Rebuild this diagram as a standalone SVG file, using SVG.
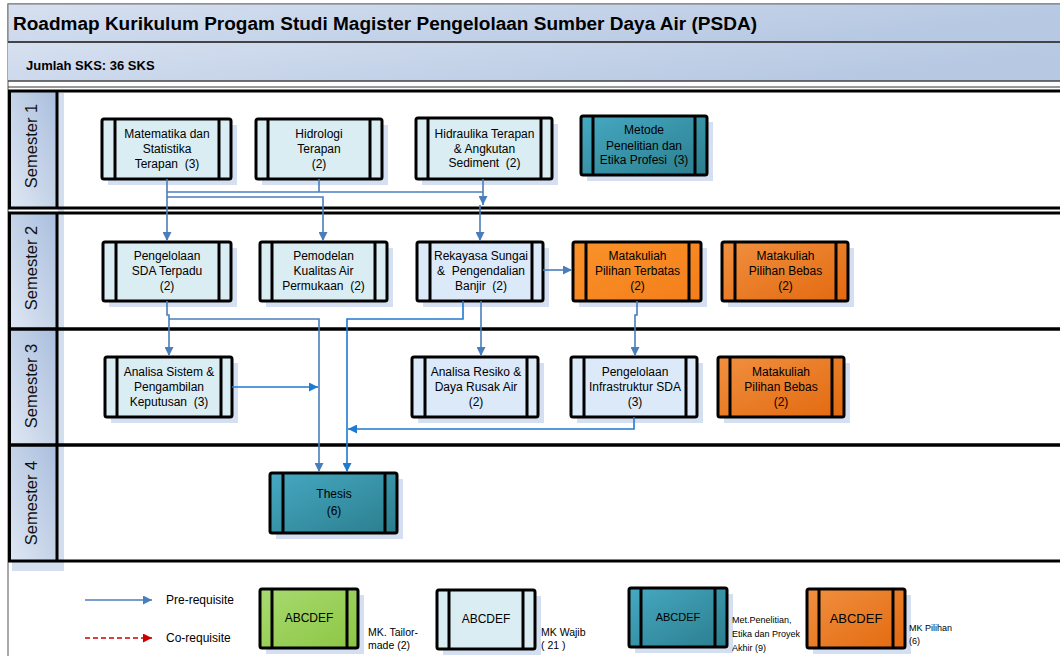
<svg xmlns="http://www.w3.org/2000/svg" width="1060" height="656" viewBox="0 0 1060 656">
<defs>
<linearGradient id="gHead" x1="0" y1="0" x2="1" y2="0.3"><stop offset="0" stop-color="#d6e0f0"/><stop offset="1" stop-color="#b6c8e2"/></linearGradient>
<linearGradient id="gLane" x1="0" y1="1" x2="1" y2="0"><stop offset="0" stop-color="#dfe7f3"/><stop offset="1" stop-color="#a9bedd"/></linearGradient>
<linearGradient id="gTeal" x1="0" y1="0" x2="1" y2="1"><stop offset="0" stop-color="#46a9c2"/><stop offset="1" stop-color="#2b7d8d"/></linearGradient>
<linearGradient id="gOr" x1="0" y1="0" x2="1" y2="1"><stop offset="0" stop-color="#f9922a"/><stop offset="1" stop-color="#f47e1a"/></linearGradient>
<linearGradient id="gOr2" x1="0" y1="0" x2="1" y2="1"><stop offset="0" stop-color="#f09040"/><stop offset="1" stop-color="#e3690f"/></linearGradient>
<linearGradient id="gGr" x1="0" y1="0" x2="1" y2="1"><stop offset="0" stop-color="#a8da70"/><stop offset="1" stop-color="#8cc644"/></linearGradient>
<marker id="aB" viewBox="0 0 10 10" refX="10" refY="5" markerWidth="10" markerHeight="9" markerUnits="userSpaceOnUse" orient="auto"><path d="M0,0 L10,5 L0,10 z" fill="#4a7ebb"/></marker>
<marker id="aC" viewBox="0 0 10 10" refX="10" refY="5" markerWidth="10" markerHeight="9" markerUnits="userSpaceOnUse" orient="auto"><path d="M0,0 L10,5 L0,10 z" fill="#1f7ad1"/></marker>
<marker id="aR" viewBox="0 0 10 10" refX="10" refY="5" markerWidth="10" markerHeight="9" markerUnits="userSpaceOnUse" orient="auto"><path d="M0,0 L10,5 L0,10 z" fill="#cc0000"/></marker>
</defs>
<style>
text{font-family:"Liberation Sans",Arial,sans-serif;fill:#000}
.nt{font-size:12px;text-anchor:middle}
.lt{font-size:16.5px;text-anchor:middle;fill:#111}
.box{stroke:#000;stroke-width:3}
.bar{stroke:#000;stroke-width:3}
.sh{fill:#c6d5ec;opacity:0.75}
.w{fill:#daedf3}
.lb{fill:#dce9f9}
.t{fill:url(#gTeal)}
.o{fill:url(#gOr)}
.o2{fill:url(#gOr2)}
.g{fill:url(#gGr)}
.lane{fill:none;stroke:#000;stroke-width:3}
.c{fill:none;stroke:#4a7ebb;stroke-width:1.6}
.c2{fill:none;stroke:#1f7ad1;stroke-width:1.6}
</style>
<rect width="1060" height="656" fill="#fff"/>
<!-- frame & headers -->
<rect x="8" y="4" width="1060" height="700" fill="none" stroke="#555" stroke-width="1"/>
<rect x="8" y="4" width="1060" height="38" fill="url(#gHead)" stroke="#777" stroke-width="1"/>
<rect x="8" y="42" width="1060" height="39" fill="url(#gHead)"/>
<line x1="8" y1="42" x2="1060" y2="42" stroke="#444" stroke-width="2"/>
<line x1="8" y1="81" x2="1060" y2="81" stroke="#444" stroke-width="1.5"/>
<text x="13" y="30" textLength="744" lengthAdjust="spacingAndGlyphs" style="font-size:18px;font-weight:bold">Roadmap Kurikulum Progam Studi Magister Pengelolaan Sumber Daya Air (PSDA)</text>
<text x="26" y="70" style="font-size:13px;font-weight:bold">Jumlah SKS: 36 SKS</text>
<line x1="8" y1="87" x2="1060" y2="87" stroke="#333" stroke-width="1"/>
<!-- lanes -->
<g id="lanes">
<rect x="58" y="93" width="6" height="478" fill="#d3deef"/>
<rect x="12" y="561" width="52" height="10" fill="#d3deef"/>
<rect x="9.5" y="91" width="48" height="117" fill="url(#gLane)"/>
<rect x="9.5" y="213" width="48" height="116" fill="url(#gLane)"/>
<rect x="9.5" y="329" width="48" height="116" fill="url(#gLane)"/>
<rect x="9.5" y="445" width="48" height="116" fill="url(#gLane)"/>
<rect x="9.5" y="91" width="1060" height="117" class="lane"/>
<rect x="9.5" y="213" width="1060" height="116" class="lane"/>
<rect x="9.5" y="329" width="1060" height="116" class="lane"/>
<rect x="9.5" y="445" width="1060" height="116" class="lane"/>
<line x1="57" y1="91" x2="57" y2="208" class="lane"/>
<line x1="57" y1="213" x2="57" y2="561" class="lane"/>
<text class="lt" transform="translate(37,146) rotate(-90)">Semester 1</text>
<text class="lt" transform="translate(37,268) rotate(-90)">Semester 2</text>
<text class="lt" transform="translate(37,386) rotate(-90)">Semester 3</text>
<text class="lt" transform="translate(37,503) rotate(-90)">Semester 4</text>
</g>
<!-- nodes -->
<g id="n1"><rect x="108" y="125" width="129" height="60" class="sh"/><rect x="102" y="119" width="129" height="60" rx="2" class="box w"/><path d="M115,119V179M219,119V179" class="bar"/><text class="nt"><tspan x="167" y="138">Matematika dan</tspan><tspan x="167" y="153">Statistika</tspan><tspan x="167" y="168">Terapan&#160; (3)</tspan></text></g>
<g id="n2"><rect x="262" y="125" width="126" height="60" class="sh"/><rect x="256" y="119" width="126" height="60" rx="2" class="box w"/><path d="M268,119V179M370,119V179" class="bar"/><text class="nt"><tspan x="319" y="138">Hidrologi</tspan><tspan x="319" y="153">Terapan</tspan><tspan x="319" y="168">(2)</tspan></text></g>
<g id="n3"><rect x="422" y="124" width="136" height="61" class="sh"/><rect x="416" y="118" width="136" height="61" rx="2" class="box w"/><path d="M428,118V179M541,118V179" class="bar"/><text class="nt"><tspan x="484.5" y="138">Hidraulika Terapan</tspan><tspan x="484.5" y="152.5">&amp; Angkutan</tspan><tspan x="484.5" y="167">Sediment&#160; (2)</tspan></text></g>
<g id="n4"><rect x="587" y="122" width="126" height="59" class="sh"/><rect x="581" y="116" width="126" height="59" rx="2" class="box t"/><path d="M593,116V175M695,116V175" class="bar"/><text class="nt"><tspan x="644" y="134">Metode</tspan><tspan x="644" y="149.5">Penelitian dan</tspan><tspan x="644" y="164">Etika Profesi&#160; (3)</tspan></text></g>
<g id="n5"><rect x="109" y="248" width="128" height="59" class="sh"/><rect x="103" y="242" width="128" height="59" rx="2" class="box w"/><path d="M116,242V301M219,242V301" class="bar"/><text class="nt"><tspan x="167" y="260">Pengelolaan</tspan><tspan x="167" y="275">SDA Terpadu</tspan><tspan x="167" y="290">(2)</tspan></text></g>
<g id="n6"><rect x="266" y="248" width="127" height="59" class="sh"/><rect x="260" y="242" width="127" height="59" rx="2" class="box w"/><path d="M272,242V301M375,242V301" class="bar"/><text class="nt"><tspan x="323.5" y="260">Pemodelan</tspan><tspan x="323.5" y="275">Kualitas Air</tspan><tspan x="323.5" y="290">Permukaan&#160; (2)</tspan></text></g>
<g id="n7"><rect x="423" y="248" width="126" height="59" class="sh"/><rect x="417" y="242" width="126" height="59" rx="2" class="box lb"/><path d="M430,242V301M532,242V301" class="bar"/><text class="nt"><tspan x="481" y="260">Rekayasa Sungai</tspan><tspan x="481" y="275">&amp;&#160; Pengendalian</tspan><tspan x="481" y="290">Banjir&#160; (2)</tspan></text></g>
<g id="n8"><rect x="579" y="248" width="128" height="59" class="sh"/><rect x="573" y="242" width="128" height="59" rx="2" class="box o"/><path d="M586,242V301M689,242V301" class="bar"/><text class="nt"><tspan x="637.5" y="260">Matakuliah</tspan><tspan x="637.5" y="275">Pilihan Terbatas</tspan><tspan x="637.5" y="290">(2)</tspan></text></g>
<g id="n9"><rect x="728" y="248" width="126" height="59" class="sh"/><rect x="722" y="242" width="126" height="59" rx="2" class="box o2"/><path d="M735,242V301M836,242V301" class="bar"/><text class="nt"><tspan x="785.5" y="260">Matakuliah</tspan><tspan x="785.5" y="275">Pilihan Bebas</tspan><tspan x="785.5" y="290">(2)</tspan></text></g>
<g id="n10"><rect x="111" y="363" width="127" height="60" class="sh"/><rect x="105" y="357" width="127" height="60" rx="2" class="box w"/><path d="M117,357V417M221,357V417" class="bar"/><text class="nt"><tspan x="169" y="376">Analisa Sistem &amp;</tspan><tspan x="169" y="391">Pengambilan</tspan><tspan x="169" y="406">Keputusan&#160; (3)</tspan></text></g>
<g id="n11"><rect x="418" y="363" width="126" height="60" class="sh"/><rect x="412" y="357" width="126" height="60" rx="2" class="box lb"/><path d="M425,357V417M527,357V417" class="bar"/><text class="nt"><tspan x="476" y="376">Analisa Resiko &amp;</tspan><tspan x="476" y="391">Daya Rusak Air</tspan><tspan x="476" y="406">(2)</tspan></text></g>
<g id="n12"><rect x="577" y="363" width="126" height="60" class="sh"/><rect x="571" y="357" width="126" height="60" rx="2" class="box lb"/><path d="M584,357V417M686,357V417" class="bar"/><text class="nt"><tspan x="635" y="376">Pengelolaan</tspan><tspan x="635" y="391">Infrastruktur SDA</tspan><tspan x="635" y="406">(3)</tspan></text></g>
<g id="n13"><rect x="724" y="363" width="126" height="60" class="sh"/><rect x="718" y="357" width="126" height="60" rx="2" class="box o2"/><path d="M730,357V417M832,357V417" class="bar"/><text class="nt"><tspan x="781" y="376">Matakuliah</tspan><tspan x="781" y="391">Pilihan Bebas</tspan><tspan x="781" y="406">(2)</tspan></text></g>
<g id="n14"><rect x="276" y="479" width="127" height="60" class="sh"/><rect x="270" y="473" width="127" height="60" rx="2" class="box t"/><path d="M283,473V533M385,473V533" class="bar"/><text class="nt"><tspan x="334" y="498">Thesis</tspan><tspan x="334" y="515">(6)</tspan></text></g>
<!-- connectors -->
<g id="connectors">
<path d="M167,179V241" class="c" marker-end="url(#aB)"/>
<path d="M167,197H323V241" class="c" marker-end="url(#aB)"/>
<path d="M167,192H483" class="c"/>
<path d="M319,179V192" class="c"/>
<path d="M483,179V205" class="c" marker-end="url(#aB)"/>
<path d="M480,205V241" class="c" marker-end="url(#aB)"/>
<path d="M167,301V315H169V356" class="c" marker-end="url(#aB)"/>
<path d="M169,319H319V472" class="c" marker-end="url(#aB)"/>
<path d="M463,301V319H347V472" class="c2" marker-end="url(#aC)"/>
<path d="M481,301V356" class="c" marker-end="url(#aB)"/>
<path d="M543,270H572" class="c" marker-end="url(#aB)"/>
<path d="M637,301V315H635V356" class="c" marker-end="url(#aB)"/>
<path d="M232,387H318" class="c2" marker-end="url(#aC)"/>
<path d="M634,417V429H348" class="c2" marker-end="url(#aC)"/>
</g>
<!-- legend -->
<g id="legend">
<path d="M85,600H152" class="c" marker-end="url(#aB)"/>
<text x="166" y="604" style="font-size:12px">Pre-requisite</text>
<path d="M85,638H152" fill="none" stroke="#cc0000" stroke-width="1.6" stroke-dasharray="5,3" marker-end="url(#aR)"/>
<text x="166" y="642" style="font-size:12px">Co-requisite</text>
<g id="lg1"><rect x="266" y="595" width="98" height="59" class="sh"/><rect x="260" y="589" width="98" height="59" rx="2" class="box g"/><path d="M272,589V648M347,589V648" class="bar"/><text class="nt" x="309" y="622">ABCDEF</text></g>
<text x="368" y="636" style="font-size:10.5px">MK. Tailor-</text>
<text x="368" y="649" style="font-size:10.5px">made (2)</text>
<g id="lg2"><rect x="443" y="596" width="98" height="59" class="sh"/><rect x="437" y="590" width="98" height="59" rx="2" class="box w"/><path d="M449,590V649M523,590V649" class="bar"/><text class="nt" x="486" y="623">ABCDEF</text></g>
<text x="541" y="636" style="font-size:10.5px">MK Wajib</text>
<text x="541" y="649" style="font-size:10.5px">( 21 )</text>
<g id="lg3"><rect x="635" y="594" width="98" height="59" class="sh"/><rect x="629" y="588" width="98" height="59" rx="2" class="box t"/><path d="M641,588V647M715,588V647" class="bar"/><text class="nt" x="678" y="621" style="font-size:11px">ABCDEF</text></g>
<text x="732" y="623" style="font-size:9px">Met.Penelitian,</text>
<text x="732" y="637" style="font-size:9px">Etika dan Proyek</text>
<text x="732" y="651" style="font-size:9px">Akhir (9)</text>
<g id="lg4"><rect x="813" y="595" width="98" height="59" class="sh"/><rect x="807" y="589" width="98" height="59" rx="2" class="box o2"/><path d="M819,589V648M893,589V648" class="bar"/><text class="nt" x="856" y="623" style="font-size:13px">ABCDEF</text></g>
<text x="909" y="631" style="font-size:9px">MK Pilihan</text>
<text x="909" y="644" style="font-size:9px">(6)</text>
</g>
</svg>
